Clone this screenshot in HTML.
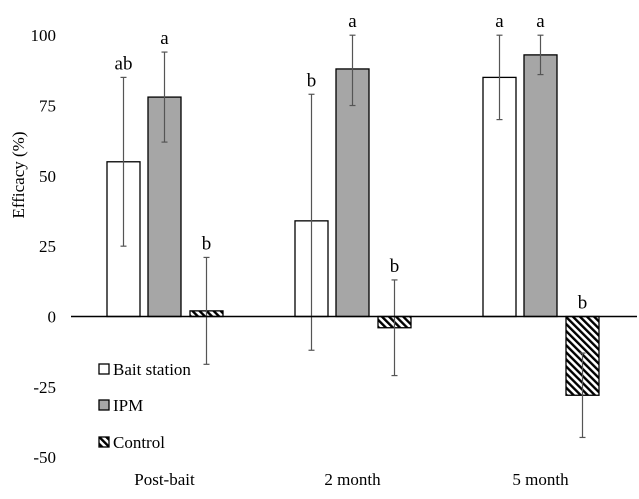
<!DOCTYPE html>
<html><head><meta charset="utf-8"><style>
body{margin:0;background:#fff}
svg text{font-family:"Liberation Serif",serif;fill:#000}
</style></head><body>
<svg id="c" width="639" height="494">
<defs><pattern id="hatch" patternUnits="userSpaceOnUse" width="5" height="5" patternTransform="rotate(-45)">
<rect width="5" height="5" fill="#fff"/><rect width="2.4" height="5" fill="#000"/></pattern></defs>
<text x="0" y="0" transform="translate(24,175) rotate(-90)" text-anchor="middle" font-size="17">Efficacy (%)</text>
</svg>
<script>
const categories=["Post-bait","2 month","5 month"];
const series=["Bait station","IPM","Control"];
const baitValues=[55,34,85];
const ipmValues=[78,88,93];
const controlValues=[2,-4,-28];
const baitErrLow=[25,-12,70], baitErrHigh=[85,79,100];
const ipmErrLow=[62,75,86], ipmErrHigh=[94,100,100];
const controlErrLow=[-17,-21,-43], controlErrHigh=[21,13,-13];
const baitLetters=["ab","b","a"], ipmLetters=["a","a","a"], controlLetters=["b","b","b"];
const yTicks=[100,75,50,25,0,-25,-50];
const svg=document.getElementById('c');const NS='http://www.w3.org/2000/svg';
function y(v){return 316.5-v*2.813;}
function el(t,a,txt){const e=document.createElementNS(NS,t);for(const k in a)e.setAttribute(k,a[k]);if(txt!==undefined)e.textContent=txt;svg.appendChild(e);return e;}
yTicks.forEach(t=>{const e=el('text',{x:56,y:y(t)+6,'text-anchor':'end','font-size':17},String(t));

});
const groupStart=[107,295,483];const offs=[0,41,83];const bw=33;
const fills=['#fff','#a6a6a6','url(#hatch)'];
const vals=[baitValues,ipmValues,controlValues];
const lo=[baitErrLow,ipmErrLow,controlErrLow],hi=[baitErrHigh,ipmErrHigh,controlErrHigh];
const lets=[baitLetters,ipmLetters,controlLetters];
categories.forEach((c,i)=>{
 series.forEach((s,j)=>{
  const v=vals[j][i];const x=groupStart[i]+offs[j];
  const r=el('rect',{x:x,y:Math.min(y(v),y(0)),width:bw,height:Math.abs(y(v)-y(0)),fill:fills[j],stroke:'#000','stroke-width':1.3});
  
  
  const cx=x+bw/2;
  const l=el('line',{x1:cx,x2:cx,y1:y(lo[j][i]),y2:y(hi[j][i]),stroke:'#555','stroke-width':1.2});
  
  
  [lo[j][i],hi[j][i]].forEach(q=>{const cap=el('line',{x1:cx-3,x2:cx+3,y1:y(q),y2:y(q),stroke:'#555','stroke-width':1.2});
  
  });
  const ty=Math.min(y(hi[j][i]),y(0))-8;
  const t=el('text',{x:cx,y:ty,'text-anchor':'middle','font-size':19},lets[j][i]);
  
  
 });
 const ct=el('text',{x:groupStart[i]+offs[1]+bw/2,y:485,'text-anchor':'middle','font-size':17},c);
 
 
});
const ax=el('line',{x1:71,x2:637,y1:y(0),y2:y(0),stroke:'#000','stroke-width':1.5});


const legY=[369,405,442];
series.forEach((s,j)=>{
 const b=el('rect',{x:99,y:legY[j]-5,width:10,height:10,fill:fills[j],stroke:'#000','stroke-width':1.3});
 
 
 const t=el('text',{x:113,y:legY[j]+6,'font-size':17},s);
 
 
});
</script>
</body></html>
